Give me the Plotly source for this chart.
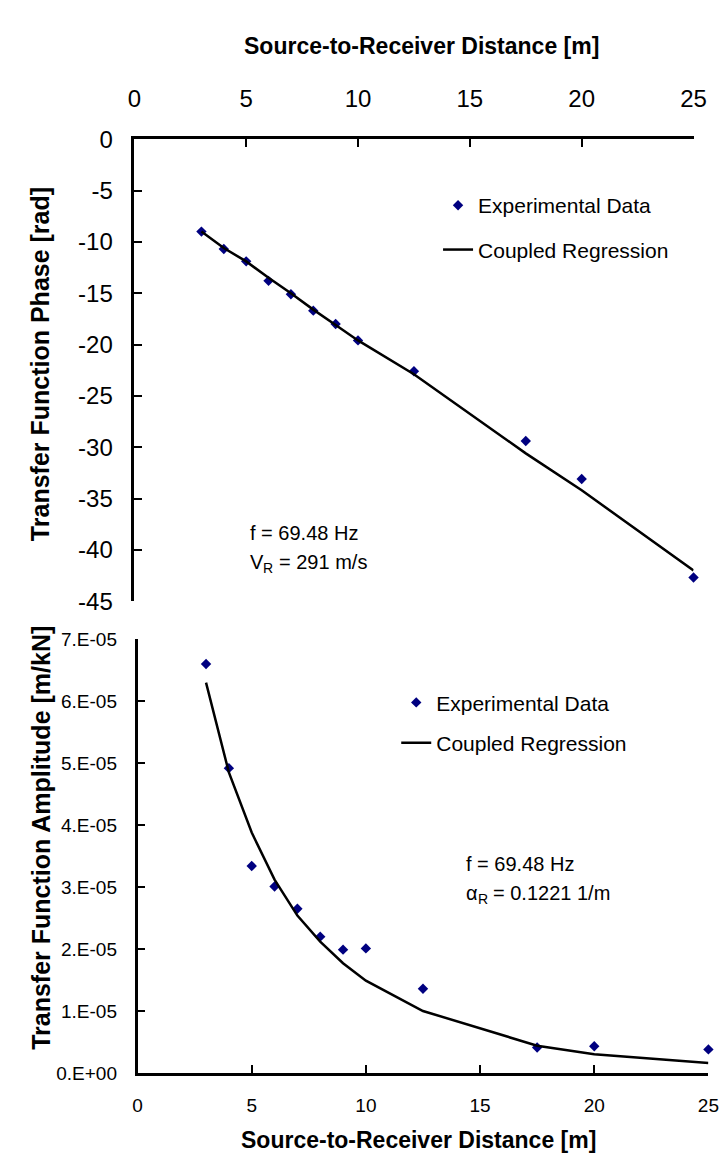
import plotly.graph_objects as go

# ---------------- data ----------------
distance = [3, 4, 5, 6, 7, 8, 9, 10, 12.5, 17.5, 20, 25]

phase_exp = [-9.0, -10.7, -11.9, -13.8, -15.1, -16.7, -18.0, -19.6, -22.6, -29.4, -33.1, -42.7]
phase_fit = [-9.0, -10.6, -11.9, -13.5, -15.0, -16.6, -18.1, -19.6, -22.9, -30.6, -34.2, -42.0]

amp_exp = [6.60e-5, 4.92e-5, 3.34e-5, 3.01e-5, 2.65e-5, 2.20e-5, 1.99e-5, 2.01e-5, 1.36e-5, 0.41e-5, 0.43e-5, 0.38e-5]
amp_fit = [6.30e-5, 4.85e-5, 3.88e-5, 3.12e-5, 2.54e-5, 2.12e-5, 1.77e-5, 1.49e-5, 1.00e-5, 0.44e-5, 0.30e-5, 0.16e-5]

x_ticks = [0, 5, 10, 15, 20, 25]
phase_ticks = [0, -5, -10, -15, -20, -25, -30, -35, -40, -45]
phase_ticktext = ["0", "-5", "-10", "-15", "-20", "-25", "-30", "-35", "-40", "-45"]
amp_ticks = [0, 1e-5, 2e-5, 3e-5, 4e-5, 5e-5, 6e-5, 7e-5]
amp_ticktext = ["0.E+00", "1.E-05", "2.E-05", "3.E-05", "4.E-05", "5.E-05", "6.E-05", "7.E-05"]

W, H = 728, 1159
FONT = "Liberation Sans, Arial, sans-serif"
NAVY = "#000080"


def px_x(p):
    return p / W


def px_y(p):
    return 1 - p / H


fig = go.Figure()

# top chart
fig.add_trace(go.Scatter(x=distance, y=phase_exp, mode="markers", name="Experimental Data",
                         marker=dict(symbol="diamond", size=8, color=NAVY),
                         xaxis="x", yaxis="y", legend="legend", legendgroup="a1", cliponaxis=False))
fig.add_trace(go.Scatter(x=distance, y=phase_fit, mode="lines", name="Coupled Regression",
                         line=dict(color="black", width=2.5),
                         xaxis="x", yaxis="y", legend="legend", legendgroup="a2", cliponaxis=False))
# bottom chart
fig.add_trace(go.Scatter(x=distance, y=amp_exp, mode="markers", name="Experimental Data",
                         marker=dict(symbol="diamond", size=8, color=NAVY),
                         xaxis="x2", yaxis="y2", legend="legend2", legendgroup="b1", cliponaxis=False))
fig.add_trace(go.Scatter(x=distance, y=amp_fit, mode="lines", name="Coupled Regression",
                         line=dict(color="black", width=2.5),
                         xaxis="x2", yaxis="y2", legend="legend2", legendgroup="b2", cliponaxis=False))

axis_common = dict(showgrid=False, zeroline=False, showline=True, linecolor="black", linewidth=2.5,
                   ticks="inside", ticklen=8, tickwidth=2, tickcolor="black")

fig.update_layout(
    width=W, height=H, autosize=False,
    margin=dict(l=0, r=0, t=0, b=0),
    paper_bgcolor="white", plot_bgcolor="white",
    font=dict(family=FONT, color="black"),
    xaxis=dict(domain=[px_x(122.7), px_x(697.7)], range=[0, 25], side="top", anchor="y",
               tickvals=x_ticks, tickfont=dict(size=24), ticklabelstandoff=20, **axis_common),
    yaxis=dict(domain=[px_y(593), px_y(120)], range=[-45, 0], anchor="x",
               tickvals=phase_ticks, ticktext=phase_ticktext, tickfont=dict(size=24),
               ticklabelstandoff=14, **axis_common),
    xaxis2=dict(domain=[px_x(126), px_x(713)], range=[0, 25], side="bottom", anchor="y2",
                tickvals=x_ticks, tickfont=dict(size=19), ticklabelstandoff=14, **axis_common),
    yaxis2=dict(domain=[px_y(1076), px_y(632)], range=[0, 7e-5], anchor="x2",
                tickvals=amp_ticks, ticktext=amp_ticktext, tickfont=dict(size=19),
                ticklabelstandoff=14, **axis_common),
    legend=dict(x=px_x(435), y=px_y(167), xanchor="left", yanchor="top",
                bgcolor="rgba(0,0,0,0)", font=dict(size=21), itemwidth=30,
                traceorder="grouped", tracegroupgap=14),
    legend2=dict(x=px_x(392), y=px_y(676), xanchor="left", yanchor="top",
                 bgcolor="rgba(0,0,0,0)", font=dict(size=21), itemwidth=30,
                 traceorder="grouped", tracegroupgap=10),
    showlegend=True,
)


def add_text(text, x, y, size, xanchor="left", angle=0, weight="normal"):
    fig.add_annotation(xref="paper", yref="paper", showarrow=False, text=text,
                       x=px_x(x), y=px_y(y), xanchor=xanchor, yanchor="middle",
                       textangle=angle, font=dict(size=size, weight=weight))


def add_sub_label(x0, yc, main, main_em, sub, rest, size=20):
    # main symbol, smaller lowered subscript, then the rest of the label
    add_text(main, x0, yc, size)
    xs = x0 + main_em * size
    sub_size = round(size * 0.7)
    add_text(sub, xs, yc + 0.3 * size, sub_size)
    xr = xs + 0.722 * sub_size + 0.278 * size
    add_text(rest, xr, yc, size)


# axis titles
add_text("Source-to-Receiver Distance [m]", 418, 25, 23, xanchor="center", weight="bold")
add_text("Source-to-Receiver Distance [m]", 415, 1145, 23, xanchor="center", weight="bold")
add_text("Transfer Function Phase [rad]", 26, 350, 25, xanchor="center", angle=-90, weight="bold")
add_text("Transfer Function Amplitude [m/kN]", 26, 835, 25, xanchor="center", angle=-90, weight="bold")

# fit parameters
add_text("f = 69.48 Hz", 240, 523, 20)
add_sub_label(240, 553, "V", 0.667, "R", "= 291 m/s")
add_text("f = 69.48 Hz", 462, 862, 20)
add_sub_label(462, 892, "α", 0.579, "R", "= 0.1221 1/m")

fig.write_html("out.html")
